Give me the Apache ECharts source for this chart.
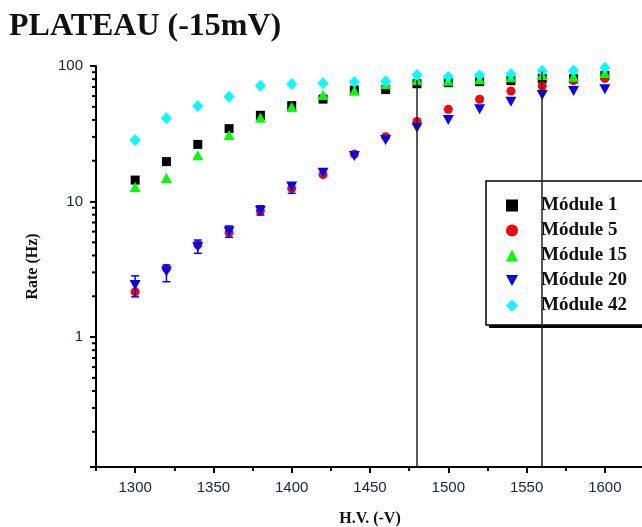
<!DOCTYPE html>
<html>
<head>
<meta charset="utf-8">
<script src="https://cdn.jsdelivr.net/npm/echarts@6/dist/echarts.min.js"></script>
<style>
  html, body { margin: 0; padding: 0; background: #fff; }
  #main { width: 642px; height: 527px; }
</style>
</head>
<body>
<div id="main"></div>
<script>
// H.V. steps (-V)
var hv = [1300, 1320, 1340, 1360, 1380, 1400, 1420, 1440, 1460, 1480, 1500, 1520, 1540, 1560, 1580, 1600];

// counting rate (Hz) per module
var module1  = [14.4, 19.7, 26.4, 34.5, 43.3, 51.0, 57.0, 66.5, 67.0, 74.0, 75.3, 76.6, 78.0, 81.0, 80.5, 85.0];
var module5  = [2.16, 3.2, 4.8, 5.9, 8.5, 12.5, 15.8, 22.4, 30.1, 39.0, 47.9, 56.8, 65.4, 71.2, 78.0, 81.0];
var module15 = [12.8, 14.9, 22.0, 31.0, 41.5, 49.8, 61.1, 65.7, 73.8, 78.8, 77.9, 79.8, 82.5, 85.8, 83.4, 88.8];
var module20 = [2.42, 3.05, 4.64, 6.0, 8.55, 12.9, 16.3, 21.7, 28.4, 35.0, 40.0, 47.9, 54.5, 61.1, 65.5, 67.5];
var module42 = [28.4, 41.1, 50.7, 59.3, 71.4, 73.5, 74.5, 76.2, 77.3, 85.8, 83.4, 85.4, 87.3, 92.3, 92.8, 97.0];

// error bars of module 20 where they stick out of the markers: [hv, low, high]
var module20Err = [
  [1300, 1.98, 2.83],
  [1320, 2.56, 3.40],
  [1340, 4.15, 5.20],
  [1360, 5.45, 6.60],
  [1380, 7.95, 9.30],
  [1400, 11.5, 13.7]
];

// plateau markers
var plateauHV  = [1480, 1560];
var plateauTop = [79, 91];

// axis ticks
var xMajorTicks = [1300, 1350, 1400, 1450, 1500, 1550, 1600];
var xMinorTicks = [1275, 1325, 1375, 1425, 1475, 1525, 1575, 1625];
var yLabels = [1, 10, 100];

var X_MIN = 1275, X_MAX = 1625, Y_MIN = 0.11, Y_MAX = 100;

var yMinorTicks = [];
[0.1, 1, 10].forEach(function (d) {
  for (var k = 2; k <= 9; k++) {
    var v = +(d * k).toFixed(3);
    if (v > Y_MIN && v < Y_MAX) yMinorTicks.push(v);
  }
});

function pairs(arr) {
  return hv.map(function (x, i) { return [x, arr[i]]; });
}

var serifFont = '"Liberation Serif", "Times New Roman", serif';
var sansFont = '"Liberation Sans", Arial, sans-serif';
var labelColor = '#22224a';

var chart = echarts.init(document.getElementById('main'), null, { renderer: 'canvas' });

var names = ['Módule 1', 'Módule 5', 'Módule 15', 'Módule 20', 'Módule 42'];
var invTri = 'path://M0,0L10,0L5,9Z';

// legend frame (box + dropped shadow), the legend itself is drawn on top
var legendBox = { left: 486, top: 181, width: 175, height: 144 };

chart.setOption({
  animation: false,
  backgroundColor: '#fff',
  title: {
    text: 'PLATEAU (-15mV)',
    left: 4,
    top: 6,
    textStyle: { fontFamily: serifFont, fontWeight: 'bold', fontSize: 32, color: '#111' }
  },
  graphic: [
    {
      type: 'rect', z: 3, silent: true,
      shape: { x: legendBox.left + 3, y: legendBox.top + 3, width: legendBox.width, height: legendBox.height },
      style: { fill: '#000' }
    },
    {
      type: 'rect', z: 3, silent: true,
      shape: { x: legendBox.left, y: legendBox.top, width: legendBox.width, height: legendBox.height },
      style: { fill: '#fff', stroke: '#000', lineWidth: 1.5 }
    }
  ],
  legend: {
    orient: 'vertical',
    left: 486,
    top: 181,
    padding: [15, 60, 12, 20],
    itemGap: 6,
    itemWidth: 12,
    itemHeight: 12,
    data: [
      { name: names[0], icon: 'rect' },
      { name: names[1], icon: 'circle' },
      { name: names[2], icon: 'triangle' },
      { name: names[3], icon: invTri },
      { name: names[4], icon: 'diamond' }
    ],
    textStyle: { fontFamily: serifFont, fontWeight: 'bold', fontSize: 19, color: '#111', padding: [0, 0, 0, 18] }
  },
  grid: { left: 96, top: 66, width: 548, height: 401, outerBoundsMode: 'none' },
  xAxis: [
    {
      type: 'value',
      min: X_MIN,
      max: X_MAX,
      name: 'H.V. (-V)',
      nameLocation: 'middle',
      nameGap: 44,
      nameTextStyle: { fontFamily: serifFont, fontWeight: 'bold', fontSize: 16, color: '#111' },
      axisLine: { lineStyle: { color: '#000', width: 2 } },
      axisTick: { customValues: xMajorTicks, length: 6, lineStyle: { color: '#000', width: 2 } },
      axisLabel: {
        customValues: xMajorTicks,
        margin: 13,
        fontFamily: sansFont,
        fontSize: 15,
        color: labelColor,
        formatter: function (v) { return String(v); }
      },
      splitLine: { show: false }
    },
    {
      type: 'value',
      position: 'bottom',
      offset: 0,
      min: X_MIN,
      max: X_MAX,
      axisLine: { show: false },
      axisTick: { customValues: xMinorTicks, length: 4, lineStyle: { color: '#000', width: 2 } },
      axisLabel: { show: false },
      splitLine: { show: false }
    }
  ],
  yAxis: {
    type: 'log',
    logBase: 10,
    min: Y_MIN,
    max: Y_MAX,
    name: 'Rate (Hz)',
    nameLocation: 'middle',
    nameGap: 55,
    nameTextStyle: { fontFamily: serifFont, fontWeight: 'bold', fontSize: 16, color: '#111' },
    axisLine: { show: true, lineStyle: { color: '#000', width: 2 } },
    axisTick: { show: true, length: 6, lineStyle: { color: '#000', width: 2 } },
    axisLabel: {
      margin: 13,
      fontFamily: sansFont,
      fontSize: 15,
      color: labelColor,
      formatter: function (v) {
        for (var i = 0; i < yLabels.length; i++) {
          if (Math.abs(v - yLabels[i]) < 1e-6 * yLabels[i]) return String(yLabels[i]);
        }
        return '';
      }
    },
    splitLine: { show: false }
  },
  series: [
    {
      name: names[0], type: 'scatter', symbol: 'rect', symbolSize: 9,
      itemStyle: { color: '#000000', opacity: 1 },
      data: pairs(module1),
      markLine: {
        silent: true,
        symbol: 'none',
        label: { show: false },
        lineStyle: { color: '#222', width: 1.5, type: 'solid' },
        data: plateauHV.map(function (x, i) {
          return [{ coord: [x, plateauTop[i]] }, { coord: [x, Y_MIN] }];
        })
      }
    },
    {
      name: names[1], type: 'scatter', symbol: 'circle', symbolSize: 9,
      itemStyle: { color: '#ff0000', opacity: 1 },
      data: pairs(module5)
    },
    {
      name: names[2], type: 'scatter', symbol: 'triangle', symbolSize: [11, 10],
      itemStyle: { color: '#00ff00', opacity: 1 },
      data: pairs(module15)
    },
    {
      name: names[3], type: 'scatter', symbol: invTri, symbolSize: [11, 10],
      itemStyle: { color: '#0000ff', opacity: 1 },
      data: pairs(module20)
    },
    {
      name: names[4], type: 'scatter', symbol: 'diamond', symbolSize: [11, 12],
      itemStyle: { color: '#00ffff', opacity: 1 },
      data: pairs(module42)
    },
    {
      // error bars
      type: 'custom',
      z: 3,
      data: module20Err,
      encode: { x: 0, y: [1, 2] },
      renderItem: function (params, api) {
        var x = api.value(0);
        var lo = api.coord([x, api.value(1)]);
        var hi = api.coord([x, api.value(2)]);
        var st = { stroke: '#0000ff', lineWidth: 1.5 };
        return {
          type: 'group',
          children: [
            { type: 'line', shape: { x1: lo[0], y1: lo[1], x2: hi[0], y2: hi[1] }, style: st },
            { type: 'line', shape: { x1: lo[0] - 4, y1: lo[1], x2: lo[0] + 4, y2: lo[1] }, style: st },
            { type: 'line', shape: { x1: hi[0] - 4, y1: hi[1], x2: hi[0] + 4, y2: hi[1] }, style: st }
          ]
        };
      }
    },
    {
      // minor ticks of the log axis (2..9 of each decade)
      type: 'custom',
      clip: false,
      silent: true,
      data: yMinorTicks.map(function (v) { return [X_MIN, v]; }),
      encode: { x: 0, y: 1 },
      renderItem: function (params, api) {
        var p = api.coord([api.value(0), api.value(1)]);
        return {
          type: 'line',
          shape: { x1: p[0] - 4, y1: p[1], x2: p[0], y2: p[1] },
          style: { stroke: '#000', lineWidth: 2 }
        };
      }
    }
  ]
});
</script>
</body>
</html>
